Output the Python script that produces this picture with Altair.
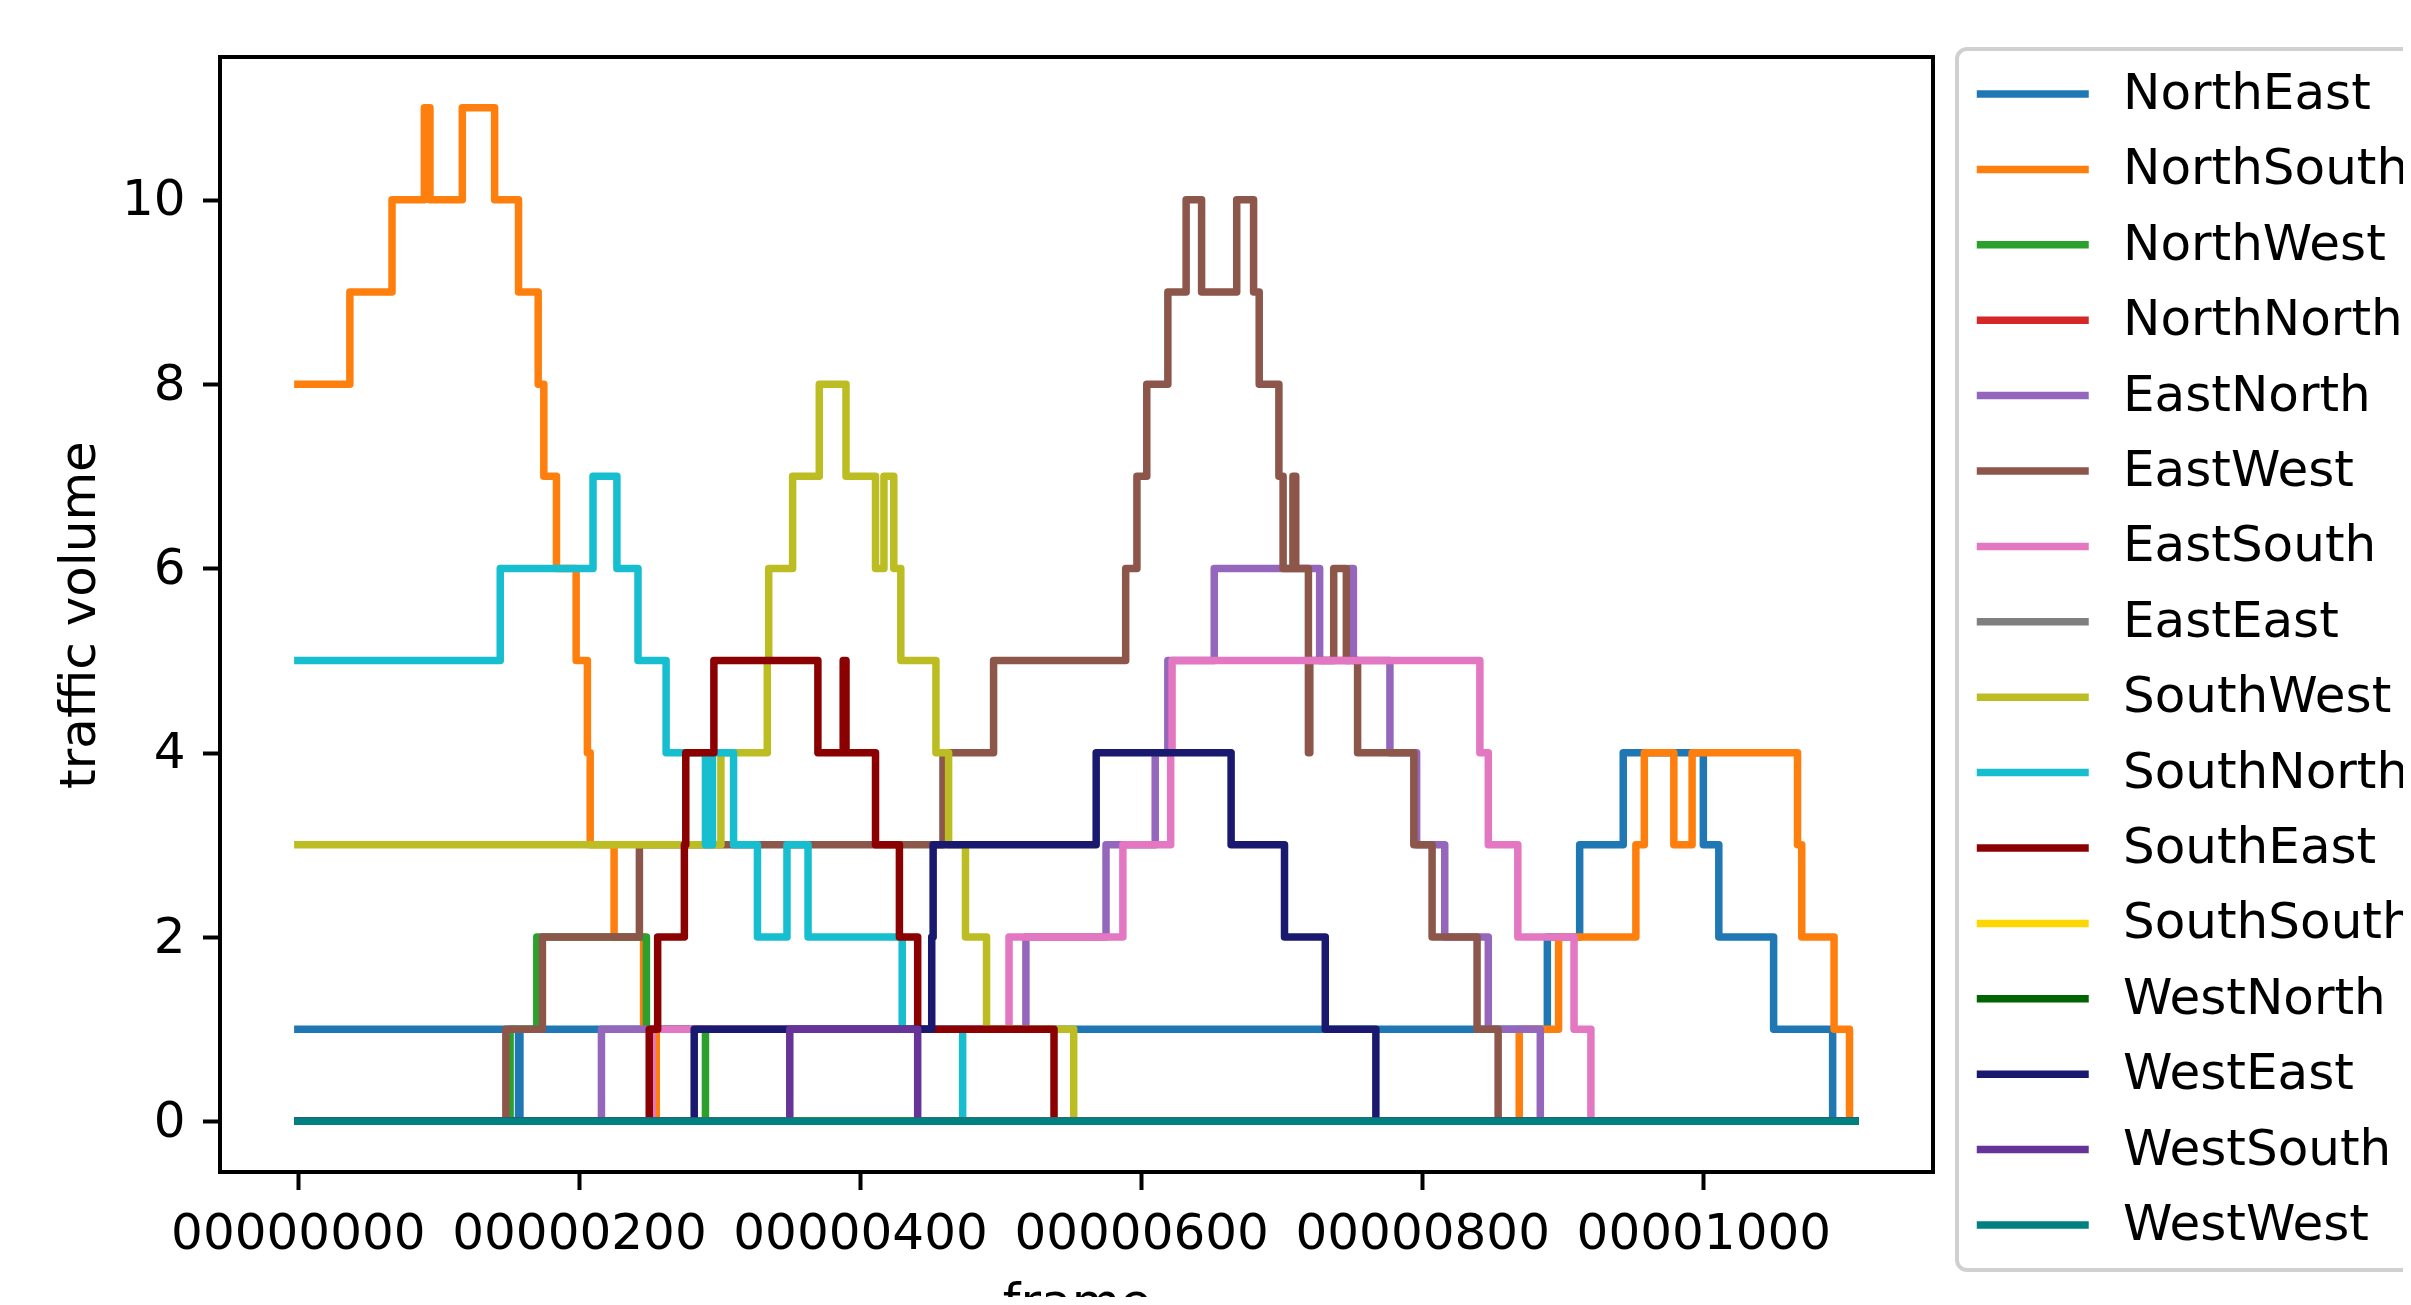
import altair as alt
import pandas as pd

# ---------------- data ----------------
SERIES = [
    "NorthEast", "NorthSouth", "NorthWest", "NorthNorth",
    "EastNorth", "EastWest", "EastSouth", "EastEast",
    "SouthWest", "SouthNorth", "SouthEast", "SouthSouth",
    "WestNorth", "WestEast", "WestSouth", "WestWest",
]
COLORS = [
    "#1f77b4", "#ff7f0e", "#2ca02c", "#d62728",
    "#9467bd", "#8c564b", "#e377c2", "#7f7f7f",
    "#bcbd22", "#17becf", "#8b0000", "#ffd700",
    "#006400", "#191970", "#663399", "#008080",
]
END_FRAME = 1108
X_TICKS = [0, 200, 400, 600, 800, 1000]
Y_TICKS = [0, 2, 4, 6, 8, 10]

# change points: frame where the count changes, and the new count
NORTH_EAST_FRAMES = [0, 157, 158, 889, 912, 943, 1000, 1011, 1050, 1092]
NORTH_EAST_VALUES = [1, 0, 1, 2, 3, 4, 3, 2, 1, 0]

NORTH_SOUTH_FRAMES = [0, 37, 67, 90, 94, 117, 140, 157, 171, 175, 184, 198, 206, 208,
                      225, 246, 255, 869, 897, 952, 958, 979, 992, 1067, 1070, 1093, 1104]
NORTH_SOUTH_VALUES = [8, 9, 10, 11, 10, 11, 10, 9, 8, 7, 6, 5, 4, 3,
                      2, 1, 0, 1, 2, 3, 4, 3, 4, 3, 2, 1, 0]

NORTH_WEST_FRAMES = [0, 151, 170, 248, 290]
NORTH_WEST_VALUES = [0, 1, 2, 1, 0]

NORTH_NORTH_FRAMES = [0]
NORTH_NORTH_VALUES = [0]

EAST_NORTH_FRAMES = [0, 216, 518, 575, 610, 619, 652, 727, 748, 751, 777, 796, 816, 847, 884]
EAST_NORTH_VALUES = [0, 1, 2, 3, 4, 5, 6, 5, 6, 5, 4, 3, 2, 1, 0]

EAST_WEST_FRAMES = [0, 148, 174, 243, 459, 495, 589, 597, 604, 619, 632, 643, 668, 680,
                    684, 698, 701, 708, 710, 719, 720, 737, 746, 754, 794, 807, 839, 854]
EAST_WEST_VALUES = [0, 1, 2, 3, 4, 5, 6, 7, 8, 9, 10, 9, 10, 9,
                    8, 7, 6, 7, 6, 4, 5, 6, 5, 4, 3, 2, 1, 0]

EAST_SOUTH_FRAMES = [0, 252, 506, 587, 621, 622, 841, 847, 868, 908, 920]
EAST_SOUTH_VALUES = [0, 1, 2, 3, 4, 5, 4, 3, 2, 1, 0]

EAST_EAST_FRAMES = [0]
EAST_EAST_VALUES = [0]

SOUTH_WEST_FRAMES = [0, 301, 334, 335, 352, 371, 390, 411, 417, 424, 429, 454, 463, 475, 490, 552]
SOUTH_WEST_VALUES = [3, 4, 5, 6, 7, 8, 7, 6, 7, 6, 5, 4, 3, 2, 1, 0]

SOUTH_NORTH_FRAMES = [0, 144, 210, 227, 242, 262, 290, 295, 310, 327, 348, 363, 430, 473]
SOUTH_NORTH_VALUES = [5, 6, 7, 6, 5, 4, 3, 4, 3, 2, 3, 2, 1, 0]

SOUTH_EAST_FRAMES = [0, 250, 256, 275, 276, 296, 370, 388, 390, 411, 428, 441, 538]
SOUTH_EAST_VALUES = [0, 1, 2, 3, 4, 5, 4, 5, 4, 3, 2, 1, 0]

SOUTH_SOUTH_FRAMES = [0]
SOUTH_SOUTH_VALUES = [0]

WEST_NORTH_FRAMES = [0]
WEST_NORTH_VALUES = [0]

WEST_EAST_FRAMES = [0, 282, 451, 452, 568, 664, 702, 731, 767]
WEST_EAST_VALUES = [0, 1, 2, 3, 4, 3, 2, 1, 0]

WEST_SOUTH_FRAMES = [0, 350, 441]
WEST_SOUTH_VALUES = [0, 1, 0]

WEST_WEST_FRAMES = [0]
WEST_WEST_VALUES = [0]

SERIES_POINTS = {
    "NorthEast": (NORTH_EAST_FRAMES, NORTH_EAST_VALUES),
    "NorthSouth": (NORTH_SOUTH_FRAMES, NORTH_SOUTH_VALUES),
    "NorthWest": (NORTH_WEST_FRAMES, NORTH_WEST_VALUES),
    "NorthNorth": (NORTH_NORTH_FRAMES, NORTH_NORTH_VALUES),
    "EastNorth": (EAST_NORTH_FRAMES, EAST_NORTH_VALUES),
    "EastWest": (EAST_WEST_FRAMES, EAST_WEST_VALUES),
    "EastSouth": (EAST_SOUTH_FRAMES, EAST_SOUTH_VALUES),
    "EastEast": (EAST_EAST_FRAMES, EAST_EAST_VALUES),
    "SouthWest": (SOUTH_WEST_FRAMES, SOUTH_WEST_VALUES),
    "SouthNorth": (SOUTH_NORTH_FRAMES, SOUTH_NORTH_VALUES),
    "SouthEast": (SOUTH_EAST_FRAMES, SOUTH_EAST_VALUES),
    "SouthSouth": (SOUTH_SOUTH_FRAMES, SOUTH_SOUTH_VALUES),
    "WestNorth": (WEST_NORTH_FRAMES, WEST_NORTH_VALUES),
    "WestEast": (WEST_EAST_FRAMES, WEST_EAST_VALUES),
    "WestSouth": (WEST_SOUTH_FRAMES, WEST_SOUTH_VALUES),
    "WestWest": (WEST_WEST_FRAMES, WEST_WEST_VALUES),
}

rows = []
for name in SERIES:
    frames, values = SERIES_POINTS[name]
    for f, v in zip(frames, values):
        rows.append({"series": name, "frame": f, "volume": v})
    rows.append({"series": name, "frame": END_FRAME, "volume": values[-1]})
df = pd.DataFrame(rows)

FONT = "DejaVu Sans"

x_enc = alt.X(
    "frame:Q",
    scale=alt.Scale(domain=[-55.4, 1163.4], nice=False, zero=False),
    axis=alt.Axis(
        values=X_TICKS,
        labelExpr="slice('00000000' + datum.value, -8)",
        title="frame",
        labelOverlap=False,
        labelFlush=False,
        labelBound=False,
        labelLimit=2000,
        labelPadding=19,
        titlePadding=20,
    ),
)
y_enc = alt.Y(
    "volume:Q",
    scale=alt.Scale(domain=[-0.55, 11.55], nice=False, zero=False),
    axis=alt.Axis(values=Y_TICKS, title="traffic volume", labelPadding=17.5, titlePadding=17),
)
color_enc = alt.Color(
    "series:N",
    scale=alt.Scale(domain=SERIES, range=COLORS),
    legend=alt.Legend(
        title=None,
        orient="none",
        legendX=1737,
        legendY=-8,
        symbolType="M-3.25,0H3",
        symbolSize=1284,
        symbolStrokeWidth=7.5,
        symbolOffset=33,
        labelOffset=63,
        labelFontSize=50,
        labelFont=FONT,
        labelColor="black",
        labelLimit=2000,
        rowPadding=25.4,
        padding=20,
        strokeColor="#d0d0d0",
        fillColor="white",
        cornerRadius=10,
        symbolLimit=50,
    ),
)

layers = []
for name in SERIES:
    layers.append(
        alt.Chart()
        .mark_line(interpolate="step-after", strokeWidth=7.5, strokeJoin="round", strokeCap="square")
        .encode(x=x_enc, y=y_enc, color=color_enc)
        .transform_filter(alt.datum.series == name)
    )

chart = (
    alt.layer(*layers, data=df)
    .properties(
        width=1713,
        height=1115,
        padding={"left": 212, "top": 49, "right": 470, "bottom": 125},
        autosize=alt.AutoSizeParams(type="none"),
        background="white",
    )
    .configure_view(stroke="black", strokeWidth=4)
    .configure_axis(
        domain=False,
        grid=False,
        ticks=True,
        tickColor="black",
        tickWidth=4,
        tickSize=17.5,
        labelFont=FONT,
        labelFontSize=50,
        labelColor="black",
        titleFont=FONT,
        titleFontSize=50,
        titleFontWeight="normal",
        titleColor="black",
    )
    .configure_legend(strokeWidth=4)
)

chart.save("out.html", embed_options={"renderer": "svg", "actions": False})
